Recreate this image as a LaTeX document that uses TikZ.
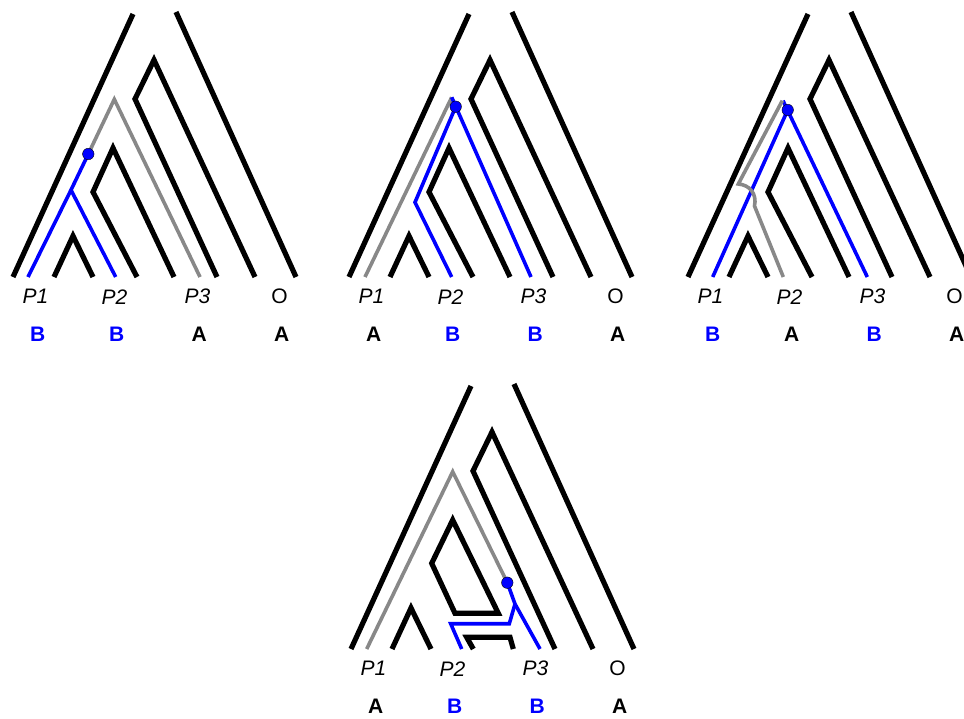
\documentclass[tikz,border=0pt]{standalone}
\usepackage{fontspec}
\setmainfont{Liberation Sans}
\definecolor{lostgray}{RGB}{136,136,136}
\begin{document}
\begin{tikzpicture}[x=1pt,y=-1pt,
	species line/.style = {draw=black, line width=5.2pt},
	lost line/.style = {draw=lostgray, line width=3.6pt},
	gene line/.style = {draw=blue, line width=3.6pt},
	dot node/.style = {circle, draw=black, fill=blue, thin, inner sep=0pt, minimum size=11.5pt},
	tip node/.style = {font=\fontsize{21}{25}\selectfont\itshape, inner sep=0pt},
	state node/.style = {font=\fontsize{21}{25}\selectfont\bfseries, inner sep=0pt},
	state A/.style = {text=black},
	state B/.style = {text=blue}]

	\useasboundingbox (0,0) rectangle (964,719);
	\clip (0,0) rectangle (964,719);

	% common part of the species tree and the labels
	\foreach \pan/\dx/\dy/\qa/\qb/\qc/\qd in {a/0/0/B/B/A/A, b/336/0/A/B/B/A, c/675/0/B/A/B/A, d/338/372/A/B/B/A} {
	\begin{scope}[shift={(\dx,\dy)}]
	\draw[species line] (13,277) -- (133,14);
	\draw[species line] (176,12) -- (296,277);
	\draw[species line] (217,277) -- (135,99) -- (154,60) -- (255,277);
	\draw[species line] (54,277) -- (73,236) -- (93,277);
	\node[tip node] (\pan1) at (35.5,296.7) {P1};
	\node[tip node] (\pan2) at (114.5,296.7) {P2};
	\node[tip node] (\pan3) at (197.5,296.7) {P3};
	\node[tip node] (\pan4) at (279.5,296.7) {\upshape O};
	\node[state node, state \qa] (\pan5) at (37.7,334) {\qa};
	\node[state node, state \qb] (\pan6) at (116.7,334) {\qb};
	\node[state node, state \qc] (\pan7) at (199.3,334) {\qc};
	\node[state node, state \qd] (\pan8) at (281.7,334) {\qd};
	\end{scope}
	}

	% P1 and P2 share B
	\draw[species line] (137,277) -- (93,192) -- (113,148) -- (174,277);
	\coordinate (m1) at (88.3,154);
	\draw[lost line] (200,277) -- (114.3,99.3) -- (m1);
	\draw[gene line] (m1) -- (71,190) -- (28,277);
	\draw[gene line] (71,190) -- (115.7,277);
	\node[dot node] (d1) at (m1) {};

	% P2 and P3 share B
	\begin{scope}[shift={(336,0)}]
	\draw[species line] (137,277) -- (93,192) -- (113,148) -- (174,277);
	\coordinate (m2) at (119.7,106.7);
	\draw[lost line] (29,277) -- (115.7,97.3);
	\draw[gene line] (115.7,97.3) -- (195,277);
	\draw[gene line] (m2) -- (79,202.3) -- (115.7,277);
	\node[dot node] (d2) at (m2) {};
	\end{scope}

	% P1 and P3 share B
	\begin{scope}[shift={(675,0)}]
	\draw[species line] (137,277) -- (93,192) -- (113,148) -- (174,277);
	\coordinate (m3) at (112.7,110);
	\draw[gene line] (108,100.7) -- (192.3,277);
	\draw[gene line] (m3) -- (37.7,277);
	\draw[lost line] (107.3,100.7) -- (63.3,184) .. controls (75,185) and (82,194) .. (79.5,206) -- (108.3,277);
	\node[dot node] (d3) at (m3) {};
	\end{scope}

	% introgression
	\begin{scope}[shift={(338,372)}]
	\draw[species line] (114.7,148) -- (93.7,191.3) -- (117,241.3) -- (160.3,241.3) -- cycle;
	\draw[species line] (135.3,277) -- (128.7,265.3) -- (172,265.3) -- (175.3,277);
	\coordinate (m4) at (169.3,210.7);
	\draw[lost line] (28.7,277) -- (114.7,99.7) -- (m4);
	\draw[gene line] (m4) -- (177,232) -- (202,277);
	\draw[gene line] (177,232) -- (171.3,251.7) -- (112.7,251.7) -- (123.7,277);
	\node[dot node] (d4) at (m4) {};
	\end{scope}

\end{tikzpicture}
\end{document}
